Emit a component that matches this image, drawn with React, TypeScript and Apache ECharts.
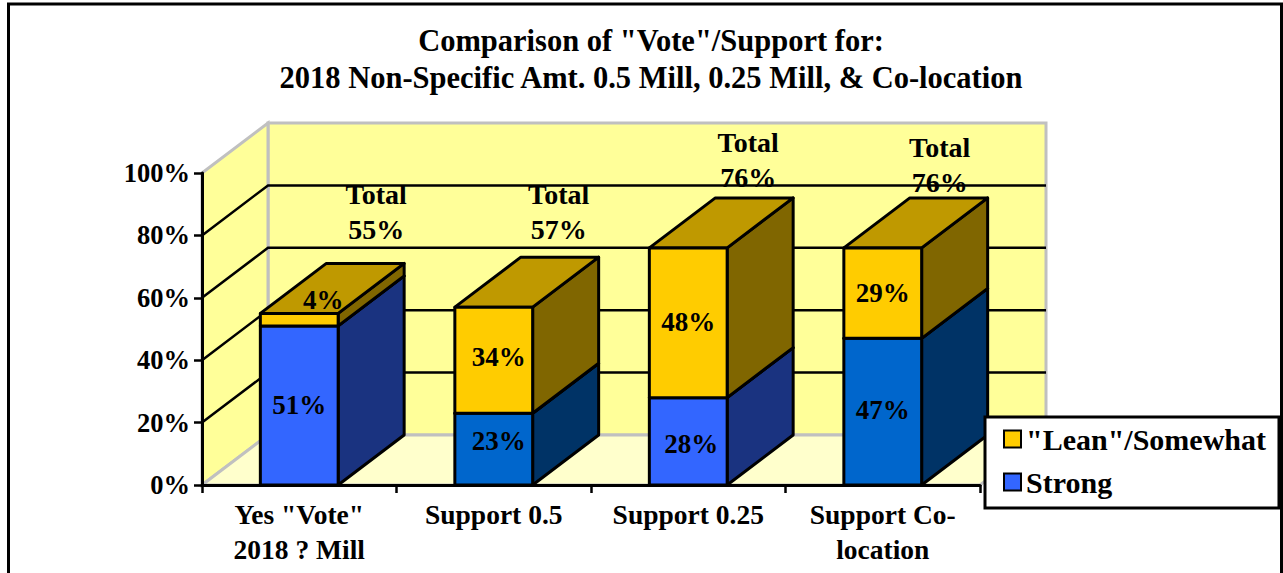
import React, { useEffect, useRef } from "react";
import * as echarts from "echarts";

// Survey results, percent of respondents
const categories = ['Yes "Vote"\n2018 ? Mill', "Support 0.5", "Support 0.25", "Support Co-\nlocation"];
const strong = [51, 23, 28, 47];
const lean = [4, 34, 48, 29];
const totals = [55, 57, 76, 76];
const yTicks = [0, 20, 40, 60, 80, 100];
const gridValues = [20, 40, 60, 80];

const titleText = 'Comparison of "Vote"/Support for:\n2018 Non-Specific Amt. 0.5 Mill, 0.25 Mill, & Co-location';

// Fill colours per bar
const strongFront = ["#3366FF", "#0066CC", "#3366FF", "#0066CC"];
const strongSide = ["#1A3380", "#003366", "#1A3380", "#003366"];
const leanFront = "#FFCC00";
const leanSide = "#806600";
const leanTop = "#BF9900";

// Pixel nudges for label placement relative to the front face centre
const strongNudge = [[0, 0], [5, -8], [3, 3], [0, -2]];
const leanNudge = [[24, -20], [5, -3], [0, -1], [0, 0]];
// Offset of the total labels from the top of the back edge of each column
const totalAnchor = [[38, -51], [26, -45], [21, -38], [18, -33]];

// Projection of the chart depth onto the screen
const DEPTH_X = 66;
const DEPTH_Y = 50;
const FONT = '"Liberation Serif", serif';
const EDGE = 3;

const pts = (list: number[][]) => ({ points: list });

function renderWalls(params: any, api: any) {
  const sys = params.coordSys;
  const x0 = sys.x;
  const x1 = sys.x + sys.width;
  const y0 = sys.y + sys.height;
  const yTop = api.coord([0, 100])[1];
  const back = (x: number, y: number) => [x + DEPTH_X, y - DEPTH_Y];
  const wallStyle = { fill: "#FFFF99", stroke: "#C0C0C0", lineWidth: EDGE };
  const children: any[] = [
    {
      type: "polygon",
      shape: pts([back(x0, yTop), back(x1, yTop), back(x1, y0), back(x0, y0)]),
      style: wallStyle,
    },
    {
      type: "polygon",
      shape: pts([[x0, yTop], back(x0, yTop), back(x0, y0), [x0, y0]]),
      style: wallStyle,
    },
    {
      type: "polygon",
      shape: pts([[x0, y0], back(x0, y0), back(x1, y0), [x1, y0]]),
      style: { fill: "#FFFFCC", stroke: "#C0C0C0", lineWidth: EDGE },
    },
  ];
  gridValues.forEach((v) => {
    const y = api.coord([0, v])[1];
    const [bx, by] = back(x0, y);
    const [ex] = back(x1, y);
    children.push({
      type: "polyline",
      shape: pts([[x0, y], [bx, by], [ex, by]]),
      style: { fill: "none", stroke: "#000", lineWidth: 2.5 },
    });
  });
  return { type: "group", children };
}

// One stacked segment of a column: front, top and side faces plus its value label
function segment(api: any, front: string, side: string, top: string, nudge: number[], value: number) {
  const idx = api.value(0);
  const w = api.size([1, 0])[0] * 0.4;
  const [cx, yLo] = api.coord([idx, api.value(1)]);
  const yHi = api.coord([idx, api.value(2)])[1];
  const l = cx - w / 2;
  const r = cx + w / 2;
  const edge = { stroke: "#000", lineWidth: EDGE, lineJoin: "round" };
  return {
    type: "group",
    children: [
      {
        type: "polygon",
        shape: pts([[r, yHi], [r + DEPTH_X, yHi - DEPTH_Y], [r + DEPTH_X, yLo - DEPTH_Y], [r, yLo]]),
        style: { fill: side, ...edge },
      },
      {
        type: "polygon",
        shape: pts([[l, yHi], [l + DEPTH_X, yHi - DEPTH_Y], [r + DEPTH_X, yHi - DEPTH_Y], [r, yHi]]),
        style: { fill: top, ...edge },
      },
      {
        type: "polygon",
        shape: pts([[l, yHi], [r, yHi], [r, yLo], [l, yLo]]),
        style: { fill: front, ...edge },
      },
      {
        type: "text",
        z2: 10,
        style: {
          text: `${value}%`,
          x: cx + nudge[0],
          y: (yLo + yHi) / 2 + nudge[1],
          align: "center",
          verticalAlign: "middle",
          fontSize: 27,
          fontWeight: "bold",
          fontFamily: FONT,
          fill: "#000",
        },
      },
    ],
  };
}

function renderStrong(params: any, api: any) {
  const i = params.dataIndex;
  return segment(api, strongFront[i], strongSide[i], strongSide[i], strongNudge[i], strong[i]);
}

function renderLean(params: any, api: any) {
  const i = params.dataIndex;
  return segment(api, leanFront, leanSide, leanTop, leanNudge[i], lean[i]);
}

function renderTotal(params: any, api: any) {
  const i = params.dataIndex;
  const w = api.size([1, 0])[0] * 0.4;
  const [cx, y] = api.coord([api.value(0), api.value(1)]);
  const a = totalAnchor[i];
  return {
    type: "text",
    style: {
      text: `Total\n${totals[i]}%`,
      x: cx + w / 2 + a[0],
      y: y + a[1] - DEPTH_Y,
      align: "center",
      verticalAlign: "middle",
      fontSize: 28,
      lineHeight: 35,
      fontWeight: "bold",
      fontFamily: FONT,
      fill: "#000",
    },
  };
}

export default function App() {
  const ref = useRef<HTMLDivElement>(null);
  useEffect(() => {
    const chart = echarts.init(ref.current!, null, { renderer: "svg" });
    chart.setOption({
      animation: false,
      backgroundColor: "#fff",
      title: {
        text: titleText,
        left: 646,
        top: 17,
        textAlign: "center",
        textStyle: { fontFamily: FONT, fontSize: 30.5, fontWeight: "bold", lineHeight: 37, color: "#000" },
      },
      grid: { left: 202, right: 303, top: 173, bottom: 88 },
      legend: {
        left: 985,
        top: 417,
        orient: "vertical",
        align: "left",
        z: 20,
        icon: "rect",
        data: ['"Lean"/Somewhat', "Strong"],
        backgroundColor: "#fff",
        borderColor: "#000",
        borderWidth: EDGE,
        padding: [7, 13, 11, 18],
        itemWidth: 17,
        itemHeight: 17,
        itemGap: 13,
        selectedMode: false,
        textStyle: { fontFamily: FONT, fontSize: 30, fontWeight: "bold", color: "#000" },
        itemStyle: { borderColor: "#000", borderWidth: 2 },
      },
      xAxis: {
        type: "category",
        data: categories,
        z: 5,
        axisLine: { lineStyle: { color: "#000", width: EDGE } },
        axisTick: { show: true, alignWithLabel: false, length: 8, lineStyle: { color: "#000", width: 2.5 } },
        axisLabel: {
          color: "#000",
          fontFamily: FONT,
          fontSize: 27.5,
          fontWeight: "bold",
          lineHeight: 35,
          margin: 12,
          interval: 0,
        },
      },
      yAxis: {
        type: "value",
        min: yTicks[0],
        max: yTicks[yTicks.length - 1],
        interval: yTicks[1] - yTicks[0],
        z: 5,
        splitLine: { show: false },
        axisLine: { show: true, lineStyle: { color: "#000", width: EDGE } },
        axisTick: { show: true, length: 8, lineStyle: { color: "#000", width: 2.5 } },
        axisLabel: {
          formatter: "{value}%",
          color: "#000",
          fontFamily: FONT,
          fontSize: 26.5,
          fontWeight: "bold",
          margin: 12,
        },
      },
      series: [
        { type: "custom", name: "walls", silent: true, z: 1, renderItem: renderWalls, data: [[0, 0]], encode: { x: 0, y: 1 } },
        {
          type: "custom",
          name: "Strong",
          z: 2,
          silent: true,
          itemStyle: { color: "#3366FF" },
          renderItem: renderStrong,
          encode: { x: 0, y: [1, 2] },
          data: strong.map((v, i) => [i, 0, v]),
        },
        {
          type: "custom",
          name: '"Lean"/Somewhat',
          z: 3,
          silent: true,
          itemStyle: { color: leanFront },
          renderItem: renderLean,
          encode: { x: 0, y: [1, 2] },
          data: lean.map((v, i) => [i, strong[i], strong[i] + v]),
        },
        {
          type: "custom",
          name: "totals",
          z: 4,
          silent: true,
          renderItem: renderTotal,
          encode: { x: 0, y: 1 },
          data: totals.map((v, i) => [i, v]),
        },
      ],
      graphic: [
        {
          type: "rect",
          z: 30,
          silent: true,
          shape: { x: 8.5, y: 4, width: 1273, height: 600 },
          style: { fill: "none", stroke: "#000", lineWidth: 3 },
        },
      ],
    });
    return () => chart.dispose();
  }, []);
  return <div ref={ref} style={{ position: "absolute", left: 0, top: 0, width: 1283, height: 573 }} />;
}
